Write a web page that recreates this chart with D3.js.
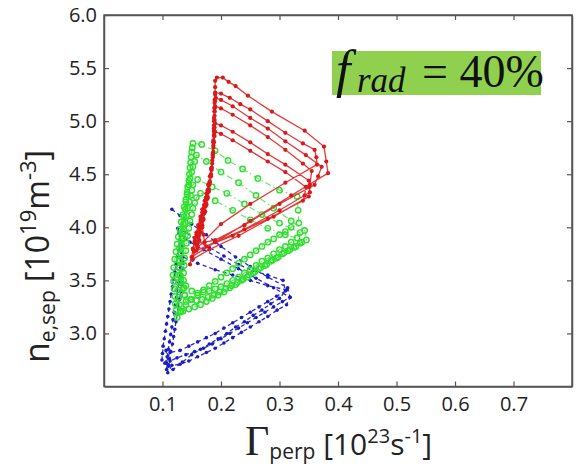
<!DOCTYPE html>
<html>
<head>
<meta charset="utf-8">
<script src="https://cdn.jsdelivr.net/npm/d3@7"></script>
<style>
  html, body { margin: 0; padding: 0; background: #fff; }
  svg { display: block; }
</style>
</head>
<body>
<svg id="chart" width="576" height="473"></svg>
<script>
// Axis ticks
const xTicks = [0.1, 0.2, 0.3, 0.4, 0.5, 0.6, 0.7];
const yTicks = [3.0, 3.5, 4.0, 4.5, 5.0, 5.5, 6.0];

// Separatrix density vs. perpendicular flux, traced through time (Γ_perp, n_e,sep)
const redTrace = [
  [0.147,3.65],[0.150,3.72],[0.152,3.80],[0.155,3.87],[0.158,3.95],[0.161,4.02],[0.165,4.10],[0.168,4.17],[0.172,4.25],[0.175,4.32],[0.178,4.40],[0.181,4.48],[0.183,4.55],[0.186,4.68],[0.187,4.80],[0.188,4.90],[0.188,5.00],[0.189,5.09],[0.189,5.17],[0.19,5.25],[0.19,5.32],[0.19,5.38],[0.193,5.41],[0.203,5.41],[0.213,5.37],[0.225,5.33],[0.246,5.24],[0.287,5.09],[0.343,4.91],[0.376,4.76],[0.38,4.62],[0.383,4.51],[0.32,4.30],[0.25,4.06],[0.19,3.86],[0.15,3.72],
  [0.152,3.79],[0.155,3.86],[0.158,3.93],[0.162,4.00],[0.165,4.07],[0.168,4.14],[0.171,4.21],[0.174,4.28],[0.177,4.35],[0.18,4.42],[0.184,4.56],[0.186,4.70],[0.187,4.82],[0.188,4.93],[0.188,5.03],[0.189,5.12],[0.189,5.20],[0.19,5.27],[0.2,5.26],[0.215,5.22],[0.233,5.16],[0.25,5.11],[0.28,5.00],[0.31,4.89],[0.34,4.79],[0.36,4.73],[0.363,4.66],[0.364,4.59],[0.31,4.42],[0.25,4.22],[0.20,4.03],[0.16,3.81],
  [0.163,3.88],[0.165,3.95],[0.168,4.02],[0.17,4.08],[0.173,4.15],[0.175,4.22],[0.177,4.29],[0.179,4.36],[0.181,4.43],[0.183,4.50],[0.185,4.63],[0.187,4.75],[0.188,4.86],[0.188,4.96],[0.189,5.05],[0.189,5.13],[0.19,5.19],[0.191,5.22],[0.2,5.20],[0.22,5.14],[0.25,5.03],[0.28,4.93],[0.31,4.81],[0.345,4.68],[0.372,4.57],[0.366,4.48],[0.36,4.40],[0.30,4.22],[0.24,4.02],[0.19,3.88],[0.172,3.86],
  [0.17,3.93],[0.168,4.00],[0.17,4.07],[0.172,4.14],[0.175,4.21],[0.177,4.28],[0.179,4.35],[0.181,4.42],[0.184,4.56],[0.186,4.68],[0.187,4.80],[0.188,4.91],[0.189,5.01],[0.189,5.09],[0.19,5.14],[0.2,5.12],[0.22,5.06],[0.25,4.96],[0.28,4.85],[0.31,4.73],[0.34,4.60],[0.355,4.53],[0.352,4.40],[0.35,4.29],[0.29,4.10],[0.23,3.92],[0.18,3.79],[0.152,3.70],
  [0.154,3.77],[0.157,3.84],[0.16,3.91],[0.163,3.98],[0.166,4.05],[0.169,4.12],[0.172,4.19],[0.175,4.26],[0.178,4.33],[0.18,4.40],[0.184,4.54],[0.186,4.66],[0.187,4.77],[0.188,4.87],[0.189,4.94],[0.19,4.98],[0.2,4.96],[0.22,4.90],[0.25,4.80],[0.28,4.69],[0.31,4.59],[0.35,4.44],[0.351,4.38],[0.352,4.33],[0.30,4.16],[0.24,3.98],[0.19,3.86],[0.158,3.78],
  [0.16,3.85],[0.162,3.92],[0.165,3.99],[0.168,4.06],[0.171,4.13],[0.174,4.20],[0.177,4.27],[0.179,4.34],[0.183,4.48],[0.185,4.60],[0.187,4.71],[0.188,4.80],[0.189,4.86],[0.19,4.90],[0.2,4.88],[0.22,4.82],[0.25,4.72],[0.28,4.62],[0.31,4.52],[0.345,4.38],[0.343,4.30],[0.34,4.25],[0.28,4.08],[0.22,3.92],[0.175,3.82],[0.155,3.90]
];

const greenTrace = [
  [0.14,3.30],[0.138,3.36],[0.135,3.42],[0.132,3.49],[0.13,3.55],[0.129,3.62],[0.129,3.68],[0.13,3.75],[0.131,3.82],[0.133,3.89],[0.134,3.96],[0.136,4.03],[0.137,4.10],[0.139,4.17],[0.14,4.24],[0.142,4.31],[0.143,4.38],[0.145,4.44],[0.146,4.50],[0.147,4.56],[0.148,4.61],[0.149,4.66],[0.15,4.71],[0.151,4.75],[0.152,4.79],
  [0.167,4.78],[0.19,4.72],[0.212,4.63],[0.237,4.55],[0.263,4.46],[0.30,4.35],[0.33,4.29],[0.332,4.16],[0.333,4.04],
  [0.32,4.00],[0.31,3.96],[0.30,3.93],[0.29,3.89],[0.28,3.86],[0.27,3.82],[0.26,3.78],[0.25,3.74],[0.24,3.70],[0.23,3.66],[0.22,3.61],[0.21,3.57],[0.20,3.53],[0.19,3.49],[0.18,3.45],[0.17,3.41],[0.16,3.36],[0.15,3.32],[0.14,3.27],[0.132,3.21],[0.125,3.15],
  [0.123,3.22],[0.122,3.28],[0.121,3.35],[0.12,3.42],[0.119,3.49],[0.118,3.55],[0.119,3.62],[0.121,3.70],[0.123,3.77],[0.125,3.84],[0.127,3.91],[0.13,3.98],[0.132,4.05],[0.135,4.12],[0.137,4.19],[0.14,4.26],[0.142,4.33],[0.145,4.40],[0.147,4.46],[0.15,4.52],[0.152,4.57],[0.155,4.62],[0.158,4.68],
  [0.175,4.62],[0.2,4.52],[0.23,4.42],[0.26,4.30],[0.29,4.18],[0.32,4.06],[0.343,3.97],[0.346,3.88],
  [0.335,3.85],[0.325,3.81],[0.315,3.78],[0.305,3.75],[0.295,3.71],[0.285,3.68],[0.275,3.64],[0.265,3.61],[0.255,3.57],[0.245,3.53],[0.235,3.50],[0.225,3.46],[0.215,3.43],[0.205,3.39],[0.195,3.36],[0.185,3.33],[0.175,3.30],[0.165,3.27],[0.155,3.25],[0.145,3.23],[0.135,3.21],[0.13,3.20],
  [0.129,3.27],[0.128,3.34],[0.127,3.41],[0.127,3.48],[0.127,3.55],[0.128,3.62],[0.129,3.69],[0.131,3.76],[0.133,3.83],[0.135,3.90],[0.137,3.97],[0.139,4.04],[0.141,4.11],[0.143,4.18],[0.146,4.24],[0.148,4.30],[0.15,4.35],[0.152,4.40],[0.16,4.45],
  [0.185,4.38],[0.21,4.32],[0.24,4.22],[0.27,4.12],[0.30,4.04],[0.335,3.95],[0.338,3.86],
  [0.328,3.82],[0.318,3.79],[0.308,3.76],[0.298,3.72],[0.288,3.69],[0.278,3.65],[0.268,3.62],[0.258,3.58],[0.248,3.55],[0.238,3.51],[0.228,3.48],[0.218,3.45],[0.208,3.42],[0.198,3.39],[0.188,3.36],[0.178,3.34],[0.168,3.32],[0.158,3.31],[0.148,3.32],[0.138,3.36],
  [0.137,3.43],[0.136,3.50],[0.136,3.57],[0.137,3.64],[0.138,3.71],[0.14,3.78],[0.141,3.85],[0.143,3.92],[0.145,3.99],[0.147,4.06],[0.15,4.12],[0.152,4.18],[0.155,4.23],[0.158,4.28],[0.165,4.32],
  [0.19,4.25],[0.22,4.16],[0.25,4.07],[0.28,3.99],[0.31,3.93],[0.33,3.90],
  [0.32,3.86],[0.31,3.82],[0.30,3.79],[0.29,3.75],[0.28,3.71],[0.27,3.68],[0.26,3.64],[0.25,3.60],[0.24,3.57],[0.23,3.53],[0.22,3.50],[0.21,3.47],[0.20,3.44],[0.19,3.42],[0.18,3.40],[0.17,3.39],[0.16,3.38],[0.15,3.40],[0.14,3.45]
];

const blueTrace = [
  [0.116,4.17],[0.13,4.11],[0.15,4.03],[0.175,3.93],[0.2,3.82],[0.225,3.72],[0.25,3.63],[0.28,3.53],[0.314,3.43],[0.318,3.34],
  [0.305,3.30],[0.29,3.25],[0.275,3.20],[0.26,3.15],[0.245,3.10],[0.23,3.05],[0.215,3.00],[0.2,2.95],[0.185,2.90],[0.17,2.86],[0.155,2.83],[0.14,2.80],[0.125,2.77],[0.113,2.74],[0.107,2.66],
  [0.107,2.72],[0.108,2.78],[0.11,2.85],[0.112,2.92],[0.114,2.99],[0.116,3.06],[0.118,3.13],[0.12,3.20],[0.122,3.27],[0.124,3.34],[0.126,3.41],[0.128,3.48],[0.13,3.55],[0.131,3.62],[0.132,3.69],[0.133,3.76],[0.132,3.82],[0.13,3.88],[0.128,3.94],[0.126,3.99],
  [0.14,3.95],[0.16,3.88],[0.18,3.81],[0.205,3.73],[0.23,3.65],[0.255,3.59],[0.28,3.55],[0.306,3.50],[0.31,3.40],
  [0.295,3.35],[0.28,3.30],[0.265,3.25],[0.25,3.20],[0.235,3.15],[0.22,3.10],[0.205,3.05],[0.19,3.00],[0.175,2.96],[0.16,2.92],[0.145,2.88],[0.13,2.84],[0.113,2.82],[0.104,2.72],[0.099,2.75],
  [0.1,2.81],[0.101,2.88],[0.103,2.95],[0.105,3.02],[0.107,3.09],[0.109,3.16],[0.111,3.23],[0.113,3.30],[0.115,3.37],[0.117,3.44],[0.119,3.51],[0.121,3.58],[0.123,3.65],[0.125,3.72],[0.128,3.78],[0.13,3.84],[0.138,3.90],[0.147,3.86],
  [0.17,3.79],[0.2,3.70],[0.23,3.61],[0.26,3.52],[0.29,3.43],[0.318,3.34],[0.312,3.27],
  [0.296,3.22],[0.28,3.16],[0.265,3.11],[0.25,3.06],[0.235,3.01],[0.22,2.96],[0.205,2.91],[0.19,2.86],[0.175,2.82],[0.16,2.78],[0.145,2.74],[0.13,2.71],[0.116,2.70],[0.109,2.63],
  [0.11,2.69],[0.112,2.76],[0.114,2.83],[0.117,2.90],[0.119,2.97],[0.121,3.04],[0.123,3.11],[0.125,3.18],[0.127,3.25],[0.129,3.32],[0.131,3.39],[0.133,3.46],[0.134,3.53],[0.135,3.60],[0.136,3.66],[0.135,3.72],
  [0.16,3.66],[0.19,3.60],[0.22,3.55],[0.25,3.50],[0.28,3.45],[0.312,3.41],[0.3,3.33],
  [0.285,3.28],[0.27,3.22],[0.255,3.17],[0.24,3.11],[0.225,3.06],[0.21,3.00],[0.195,2.95],[0.18,2.90],[0.165,2.85],[0.15,2.80],[0.134,2.73],[0.118,2.66],[0.11,2.70],[0.106,2.84]
];

const svg = d3.select("#chart");
const plot = { left: 104, right: 572, top: 15, bottom: 386.5 };

const x = d3.scaleLinear().domain([0, 0.8]).range([plot.left, plot.right]);
const y = d3.scaleLinear().domain([2.5, 6.0]).range([plot.bottom, plot.top]);

const axisColor = "#555";
const tickFont = "'Open Sans', sans-serif";

const line = d3.line().x(d => x(d[0])).y(d => y(d[1]));

// Blue series: dashed line with small filled dots
svg.append("path").datum(blueTrace)
  .attr("d", line).attr("fill", "none")
  .attr("stroke", "#2b2bd0").attr("stroke-width", 1.3)
  .attr("stroke-dasharray", "4,3");
svg.append("g").selectAll("circle").data(blueTrace).join("circle")
  .attr("cx", d => x(d[0])).attr("cy", d => y(d[1])).attr("r", 1.8)
  .attr("fill", "#1c1cc4");

// Green series: dash-dot line with open circles
svg.append("path").datum(greenTrace)
  .attr("d", line).attr("fill", "none")
  .attr("stroke", "#6ee46e").attr("stroke-width", 1.2)
  .attr("stroke-dasharray", "6,3,1.5,3");
svg.append("g").selectAll("circle").data(greenTrace).join("circle")
  .attr("cx", d => x(d[0])).attr("cy", d => y(d[1])).attr("r", 2.7)
  .attr("fill", "none").attr("stroke", "#2ee02e").attr("stroke-width", 1.4);

// Red series: solid line with filled dots
svg.append("path").datum(redTrace)
  .attr("d", line).attr("fill", "none")
  .attr("stroke", "#e63a3a").attr("stroke-width", 1.3);
svg.append("g").selectAll("circle").data(redTrace).join("circle")
  .attr("cx", d => x(d[0])).attr("cy", d => y(d[1])).attr("r", 2.1)
  .attr("fill", "#d81a1a");

// Axes box with inward ticks
function styleAxis(g) {
  g.selectAll("path.domain").attr("stroke", axisColor).attr("stroke-width", 1.5);
  g.selectAll(".tick line").attr("stroke", axisColor).attr("stroke-width", 1.2);
  g.selectAll(".tick text").attr("fill", "#222")
    .style("font-family", tickFont).style("font-size", "20px");
}

svg.append("g").attr("transform", `translate(0,${plot.bottom})`)
  .call(d3.axisBottom(x).tickValues(xTicks).tickSizeInner(-5).tickSizeOuter(0)
    .tickPadding(10).tickFormat(d3.format(".1f")))
  .call(styleAxis);

svg.append("g").attr("transform", `translate(0,${plot.top})`)
  .call(d3.axisTop(x).tickValues(xTicks).tickSizeInner(-5).tickSizeOuter(0).tickFormat(""))
  .call(styleAxis);

svg.append("g").attr("transform", `translate(${plot.left},0)`)
  .call(d3.axisLeft(y).tickValues(yTicks).tickSizeInner(-5).tickSizeOuter(0)
    .tickPadding(7).tickFormat(d3.format(".1f")))
  .call(styleAxis);

svg.append("g").attr("transform", `translate(${plot.right},0)`)
  .call(d3.axisRight(y).tickValues(yTicks.slice(0, -1)).tickSizeInner(-5).tickSizeOuter(0).tickFormat(""))
  .call(styleAxis);

// Full frame so the corners close
svg.append("rect")
  .attr("x", plot.left).attr("y", plot.top)
  .attr("width", plot.right - plot.left).attr("height", plot.bottom - plot.top)
  .attr("fill", "none").attr("stroke", axisColor).attr("stroke-width", 1.5);

// X axis title: Γ_perp [10^23 s^-1]
const xt = svg.append("text")
  .attr("x", 245).attr("y", 455)
  .attr("fill", "#222")
  .style("font-family", tickFont).style("font-size", "30px");
xt.append("tspan").text("Γ").style("font-family", "'Liberation Serif', serif").style("font-size", "42px");
xt.append("tspan").text("perp").attr("dy", 4).style("font-size", "21px");
xt.append("tspan").text(" [10").attr("dy", -4);
xt.append("tspan").text("23").attr("dy", -12).style("font-size", "20px");
xt.append("tspan").text("s").attr("dy", 12);
xt.append("tspan").text("-1").attr("dy", -12).style("font-size", "20px");
xt.append("tspan").text("]").attr("dy", 12);

// Y axis title: n_e,sep [10^19 m^-3]
const yt = svg.append("text")
  .attr("transform", "translate(49,363) rotate(-90)")
  .attr("fill", "#222")
  .style("font-family", tickFont).style("font-size", "32px");
yt.append("tspan").text("n").style("font-size", "34px");
yt.append("tspan").text("e,sep").attr("dy", 6).style("font-size", "21px");
yt.append("tspan").text(" [10").attr("dy", -6);
yt.append("tspan").text("19").attr("dy", -13).style("font-size", "22px");
yt.append("tspan").text("m").attr("dy", 13);
yt.append("tspan").text("-3").attr("dy", -13).style("font-size", "22px");
yt.append("tspan").text("]").attr("dy", 13);

// Radiated power fraction label
svg.append("rect")
  .attr("x", 332).attr("y", 51).attr("width", 209).attr("height", 44)
  .attr("fill", "#8fd14f");
const ft = svg.append("text")
  .attr("x", 336).attr("y", 87)
  .attr("fill", "#111")
  .style("font-family", "'Liberation Serif', serif").style("font-size", "46px");
ft.append("tspan").text("f").style("font-style", "italic").style("font-size", "52px");
ft.append("tspan").text("rad").attr("x", 357).attr("dy", 5).style("font-style", "italic").style("font-size", "35px");
ft.append("tspan").text("= 40%").attr("x", 422).attr("dy", -5);
</script>
</body>
</html>
